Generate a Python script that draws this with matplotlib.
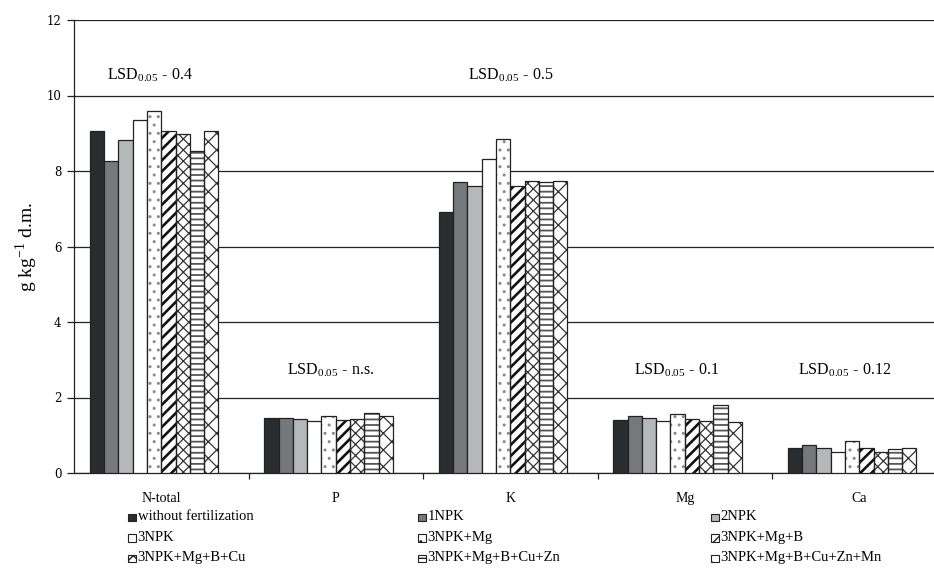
import matplotlib
matplotlib.use("Agg")
import matplotlib.pyplot as plt
import numpy as np
from matplotlib.patches import Rectangle

# nutrient content, g kg-1 d.m.
elements = ["N-total", "P", "K", "Mg", "Ca"]
without_fert = [9.07, 1.47, 6.92, 1.40, 0.66]
npk1 = [8.26, 1.47, 7.72, 1.51, 0.73]
npk2 = [8.82, 1.43, 7.61, 1.47, 0.66]
npk3 = [9.35, 1.37, 8.32, 1.37, 0.56]
npk3_mg = [9.59, 1.51, 8.85, 1.55, 0.85]
npk3_mg_b = [9.07, 1.40, 7.61, 1.44, 0.66]
npk3_mg_b_cu = [8.97, 1.43, 7.74, 1.37, 0.56]
npk3_mg_b_cu_zn = [8.54, 1.58, 7.72, 1.80, 0.63]
npk3_mg_b_cu_zn_mn = [9.07, 1.50, 7.74, 1.34, 0.66]

treatments = ["without fertilization", "1NPK", "2NPK", "3NPK", "3NPK+Mg",
              "3NPK+Mg+B", "3NPK+Mg+B+Cu", "3NPK+Mg+B+Cu+Zn",
              "3NPK+Mg+B+Cu+Zn+Mn"]
series = [without_fert, npk1, npk2, npk3, npk3_mg, npk3_mg_b,
          npk3_mg_b_cu, npk3_mg_b_cu_zn, npk3_mg_b_cu_zn_mn]

lsd_values = ["0.4", "n.s.", "0.5", "0.1", "0.12"]
lsd_y = [10.4, 2.6, 10.4, 2.6, 2.6]
lsd_x = [-0.31, 0.72, 1.76, 2.71, 3.65]

# bar styles: fill colour, hatch, hatch colour, hatch line width
styles = [
    ("#2a2d30", "", None, 1.0),
    ("#76797c", "", None, 1.0),
    ("#b5b8b9", "", None, 1.0),
    ("white", "", None, 1.0),
    ("white", "..", "#8a8a8a", 1.0),
    ("white", "///", "#111111", 1.9),
    ("white", "xxx", "#333333", 0.9),
    ("white", "---", "#555555", 1.3),
    ("white", "xx", "#333333", 0.9),
]

SERIF = "Liberation Serif"
EDGE = "#222222"
plt.rcParams["mathtext.fontset"] = "stix"

fig = plt.figure(figsize=(9.34, 5.69), dpi=100)
ax = fig.add_axes([74 / 934, 96 / 569, 872.5 / 934, 453 / 569])

x = np.arange(len(elements))
w = 0.0817
for i, (vals, (fc, hatch, hc, hlw)) in enumerate(zip(series, styles)):
    offs = -5 * w + (i + 0.5) * w
    if hatch:
        with plt.rc_context({"hatch.linewidth": hlw}):
            bars = ax.bar(x + offs, vals, width=w, color=fc, edgecolor=hc,
                          linewidth=0, hatch=hatch, zorder=3)
        for b in bars:
            if hasattr(b, "set_hatch_linewidth"):
                b.set_hatch_linewidth(hlw)
        ax.bar(x + offs, vals, width=w, fill=False, edgecolor=EDGE,
               linewidth=0.9, zorder=4)
    else:
        ax.bar(x + offs, vals, width=w, color=fc, edgecolor=EDGE,
               linewidth=0.9, zorder=3)

ax.set_xlim(-0.5, len(elements) - 0.5)
ax.set_ylim(0, 12)
ax.set_yticks(np.arange(0, 13, 2))
ax.yaxis.grid(True, color=EDGE, linewidth=0.9, zorder=0)
ax.set_axisbelow(True)
for lab in ax.get_yticklabels():
    lab.set_fontfamily("DejaVu Serif")
    lab.set_fontsize(8.5)
ax.tick_params(axis="y", direction="out", length=5, width=0.9, pad=4,
               color=EDGE)

ax.set_xticks(np.arange(0.5, len(elements) - 0.5, 1))
ax.set_xticklabels([])
ax.tick_params(axis="x", which="major", direction="out", length=4,
               width=0.9, color=EDGE)
ax.set_xticks(x, minor=True)
ax.set_xticklabels(elements, minor=True, fontfamily=SERIF, fontsize=10)
ax.tick_params(axis="x", which="minor", length=0, pad=14)

for side in ("top", "right"):
    ax.spines[side].set_visible(False)
for side in ("left", "bottom"):
    ax.spines[side].set_color(EDGE)
    ax.spines[side].set_linewidth(0.9)

ax.set_ylabel(r"g kg$^{\mathregular{-1}}$ d.m.", fontfamily=SERIF,
              fontsize=14, labelpad=5)

for xi, yi, v in zip(lsd_x, lsd_y, lsd_values):
    ax.text(xi, yi, r"LSD$_{\mathregular{0.05}}$ - " + v, fontfamily=SERIF,
            fontsize=11.5, ha="left", va="baseline")

# legend laid out row by row in three columns
col_x = [128, 418, 711]
row_y = [517, 537.5, 558]
for k, (name, (fc, hatch, hc, hlw)) in enumerate(zip(treatments, styles)):
    r, c = divmod(k, 3)
    px, py = col_x[c], row_y[r]
    fig.add_artist(Rectangle((px / 934, 1 - (py + 4) / 569), 7.5 / 934,
                             7.5 / 569, transform=fig.transFigure,
                             facecolor=fc, edgecolor=EDGE, linewidth=0.8,
                             hatch=hatch or None))
    fig.text((px + 9.5) / 934, 1 - py / 569, name, fontfamily=SERIF,
             fontsize=10.5, ha="left", va="center")

fig.savefig("out.png", dpi=100)
